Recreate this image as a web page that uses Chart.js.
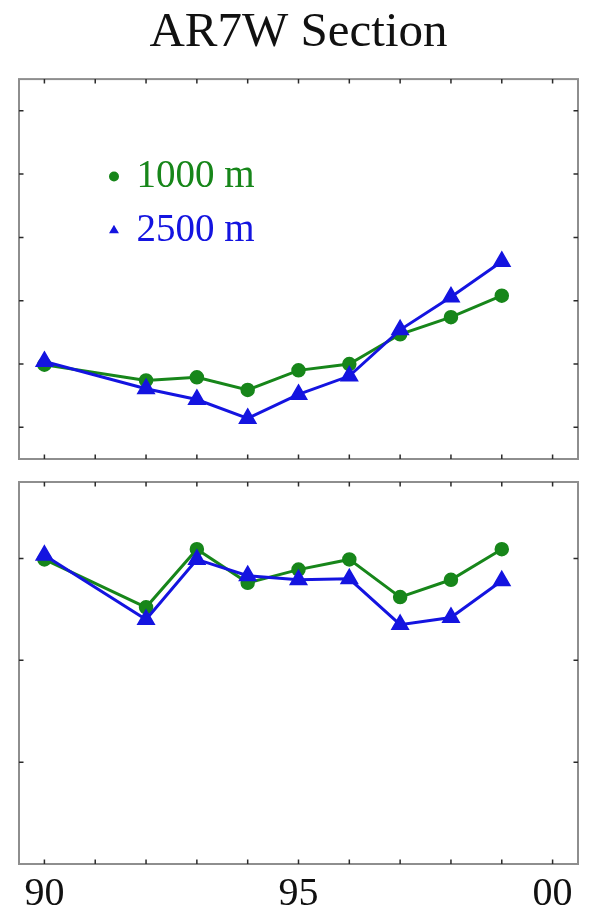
<!DOCTYPE html>
<html>
<head>
<meta charset="utf-8">
<script src="https://cdn.jsdelivr.net/npm/chart.js@4.4.1/dist/chart.umd.min.js"></script>
<style>
html, body { margin: 0; padding: 0; background: #ffffff; overflow: hidden; }
#wrap { position: relative; width: 598px; height: 913px; background: #ffffff; }
canvas { position: absolute; left: 0; }
#c1 { top: 0; }
#c2 { top: 470px; }
</style>
</head>
<body>
<div id="wrap">
  <canvas id="c1" width="598" height="470"></canvas>
  <canvas id="c2" width="598" height="443"></canvas>
</div>
<script>
// ---- data ----
const titleText = 'AR7W Section';
const seriesNames = ['1000 m', '2500 m'];
const years = [90, 92, 93, 94, 95, 96, 97, 98, 99];
const upper1000 = [0.99, 0.74, 0.79, 0.59, 0.90, 1.00, 1.47, 1.74, 2.08];
const upper2500 = [1.04, 0.61, 0.44, 0.14, 0.52, 0.81, 1.54, 2.06, 2.62];
const lower1000 = [2.99, 2.52, 3.09, 2.76, 2.89, 2.99, 2.62, 2.79, 3.09];
const lower2500 = [3.03, 2.40, 2.99, 2.83, 2.79, 2.80, 2.35, 2.42, 2.78];
const xTickValues = [90, 91, 92, 93, 94, 95, 96, 97, 98, 99, 100];
const xTickLabels = ['90', '', '', '', '', '95', '', '', '', '', '00'];
const upperYTicks = [0, 1, 2, 3, 4, 5];
const lowerYTicks = [1, 2, 3];

// ---- styles ----
const seriesColors = ['#17861a', '#1414e0'];
const pointStyles = ['circle', 'triangle'];
const pointSizes = [6.5, 9.5];
const serif = "'Liberation Serif', 'Times New Roman', serif";

function toPoints(xs, ys) { return xs.map((x, i) => ({ x: x, y: ys[i] })); }

function makeDatasets(v1000, v2500) {
  const vals = [v1000, v2500];
  return vals.map((v, i) => ({
    label: seriesNames[i],
    data: toPoints(years, v),
    borderColor: seriesColors[i],
    backgroundColor: seriesColors[i],
    pointBackgroundColor: seriesColors[i],
    pointBorderColor: seriesColors[i],
    borderWidth: 3,
    pointBorderWidth: 1.5,
    pointStyle: pointStyles[i],
    pointRadius: pointSizes[i],
    tension: 0,
    fill: false,
    order: 1 - i
  }));
}

const framePlugin = {
  id: 'frame',
  beforeDatasetsDraw(chart) {
    const { ctx, chartArea: a } = chart;
    const xs = chart.scales.x, ys = chart.scales.y;
    ctx.save();
    ctx.strokeStyle = '#8e8e8e';
    ctx.lineWidth = 2;
    ctx.strokeRect(a.left, a.top, a.right - a.left, a.bottom - a.top);
    ctx.strokeStyle = '#2a2a2a';
    ctx.lineWidth = 1.5;
    const L = 4.5;
    ctx.beginPath();
    xs.ticks.forEach(t => {
      const px = xs.getPixelForValue(t.value);
      if (px <= a.left + 1 || px >= a.right - 1) return;
      ctx.moveTo(px, a.top); ctx.lineTo(px, a.top + L);
      ctx.moveTo(px, a.bottom); ctx.lineTo(px, a.bottom - L);
    });
    ys.ticks.forEach(t => {
      const py = ys.getPixelForValue(t.value);
      if (py <= a.top + 1 || py >= a.bottom - 1) return;
      ctx.moveTo(a.left, py); ctx.lineTo(a.left + L, py);
      ctx.moveTo(a.right, py); ctx.lineTo(a.right - L, py);
    });
    ctx.stroke();
    ctx.restore();
  }
};

const legendPlace = {
  id: 'legendPlace',
  afterLayout(chart, args, opts) {
    const lg = chart.legend;
    if (!lg || !opts || opts.left === undefined) return;
    const w = lg.width, h = lg.height;
    lg.left = opts.left; lg.top = opts.top;
    lg.right = opts.left + w; lg.bottom = opts.top + h;
  }
};

function xScale(showLabels) {
  return {
    type: 'linear',
    min: 89.5,
    max: 100.5,
    display: showLabels,
    afterBuildTicks: s => { s.ticks = xTickValues.map(v => ({ value: v })); },
    afterFit: showLabels ? (s => { s.height = 49; }) : undefined,
    grid: { display: false, drawTicks: false },
    border: { display: false },
    ticks: {
      autoSkip: false,
      maxRotation: 0,
      minRotation: 0,
      padding: 10.5,
      color: '#111111',
      font: { family: serif, size: 40, lineHeight: 1 },
      callback: v => { const i = xTickValues.indexOf(v); return i >= 0 ? xTickLabels[i] : ''; }
    }
  };
}

function yScale(min, max, tickVals) {
  return {
    type: 'linear',
    min: min,
    max: max,
    display: false,
    afterBuildTicks: s => { s.ticks = tickVals.map(v => ({ value: v })); }
  };
}

// ---- upper panel ----
new Chart(document.getElementById('c1'), {
  type: 'line',
  data: { datasets: makeDatasets(upper1000, upper2500) },
  options: {
    responsive: false,
    devicePixelRatio: 1,
    animation: false,
    events: [],
    layout: { padding: { top: 0, left: 19, right: 20, bottom: 8.5 } },
    scales: { x: xScale(false), y: yScale(-0.5, 5.5, upperYTicks) },
    plugins: {
      tooltip: { enabled: false },
      title: {
        display: true,
        text: titleText,
        color: '#111111',
        font: { family: serif, size: 49, weight: 'normal', lineHeight: 1.2 },
        padding: { top: 4, bottom: 16.3 }
      },
      legend: {
        display: true,
        position: 'chartArea',
        align: 'start',
        labels: {
          usePointStyle: true,
          boxWidth: 6,
          boxHeight: 6,
          padding: 15,
          color: '#111111',
          font: { family: serif, size: 39 },
          sort: (a, b) => a.datasetIndex - b.datasetIndex,
          generateLabels: chart => {
            const items = Chart.defaults.plugins.legend.labels.generateLabels(chart);
            items.forEach(it => { it.fontColor = seriesColors[it.datasetIndex]; });
            return items;
          }
        }
      },
      legendPlace: { left: 96, top: 142 }
    }
  },
  plugins: [framePlugin, legendPlace]
});

// ---- lower panel ----
new Chart(document.getElementById('c2'), {
  type: 'line',
  data: { datasets: makeDatasets(lower1000, lower2500) },
  options: {
    responsive: false,
    devicePixelRatio: 1,
    animation: false,
    events: [],
    layout: { padding: { top: 12, left: 19, right: 20, bottom: 0 } },
    scales: { x: xScale(true), y: yScale(0, 3.75, lowerYTicks) },
    plugins: {
      tooltip: { enabled: false },
      legend: { display: false },
      title: { display: false }
    }
  },
  plugins: [framePlugin]
});
</script>
</body>
</html>
